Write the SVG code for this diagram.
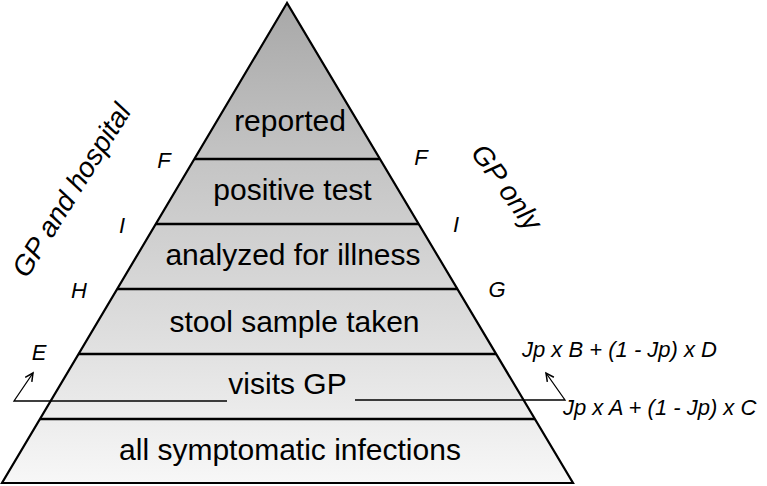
<svg xmlns="http://www.w3.org/2000/svg" width="767" height="486" viewBox="0 0 767 486">
  <defs>
    <linearGradient id="pyrFill" x1="0" y1="3" x2="0" y2="483" gradientUnits="userSpaceOnUse">
      <stop offset="0" stop-color="#a8a8a8"/>
      <stop offset="0.35" stop-color="#c6c6c6"/>
      <stop offset="0.7" stop-color="#dfdfdf"/>
      <stop offset="1" stop-color="#f7f7f7"/>
    </linearGradient>
    <marker id="openArrow" markerWidth="12" markerHeight="12" refX="9" refY="5" orient="auto" markerUnits="userSpaceOnUse">
      <path d="M1,1 L9,5 L1,9" fill="none" stroke="#000" stroke-width="1.5"/>
    </marker>
    <style>
      .band { font-family: "Liberation Sans", Arial, sans-serif; font-size: 30px; fill: #000; text-anchor: middle; }
      .lbl { font-family: "Liberation Sans", Arial, sans-serif; font-size: 22px; font-style: italic; fill: #000; text-anchor: middle; }
      .side { font-family: "Liberation Sans", Arial, sans-serif; font-size: 28px; font-style: italic; fill: #000; text-anchor: middle; }
      .formula { font-family: "Liberation Sans", Arial, sans-serif; font-size: 22px; font-style: italic; fill: #000; }
      .div { stroke: #000; stroke-width: 2.5; }
      .thin { fill: none; stroke: #000; stroke-width: 1.3; }
    </style>
  </defs>

  <g id="pyramid">
    <polygon points="287,3 2,483 573,483" fill="url(#pyrFill)" stroke="#000" stroke-width="2.2" stroke-linejoin="miter"/>
    <line class="div" x1="194.4" y1="159" x2="379.9" y2="159"/>
    <line class="div" x1="155.8" y1="224" x2="418.7" y2="224"/>
    <line class="div" x1="117.2" y1="289" x2="457.4" y2="289"/>
    <line class="div" x1="78.6" y1="354" x2="496.1" y2="354"/>
    <line class="div" x1="40" y1="419" x2="534.9" y2="419"/>
  </g>

  <g id="band-reported"><text class="band" x="290" y="131">reported</text></g>
  <g id="band-positive"><text class="band" x="292.5" y="200">positive test</text></g>
  <g id="band-analyzed"><text class="band" x="293" y="265">analyzed for illness</text></g>
  <g id="band-stool"><text class="band" x="294.5" y="332">stool sample taken</text></g>
  <g id="band-visits"><text class="band" x="287.5" y="394">visits GP</text></g>
  <g id="band-all"><text class="band" x="290" y="460">all symptomatic infections</text></g>

  <g id="label-left-side"><text class="side" transform="translate(71,190) rotate(-58)" x="0" y="10">GP and hospital</text></g>
  <g id="label-right-side"><text class="side" transform="translate(507,187) rotate(54)" x="0" y="10">GP only</text></g>

  <g id="label-F-left"><text class="lbl" x="164" y="168">F</text></g>
  <g id="label-I-left"><text class="lbl" x="122" y="233">I</text></g>
  <g id="label-H-left"><text class="lbl" x="79" y="298">H</text></g>
  <g id="label-E"><text class="lbl" x="39" y="360">E</text></g>
  <g id="label-F-right"><text class="lbl" x="421" y="165">F</text></g>
  <g id="label-I-right"><text class="lbl" x="456" y="232">I</text></g>
  <g id="label-G"><text class="lbl" x="497" y="297">G</text></g>

  <g id="formula-top"><text class="formula" x="522" y="357">Jp x B + (1 - Jp) x D</text></g>
  <g id="formula-bottom"><text class="formula" x="563" y="415">Jp x A + (1 - Jp) x C</text></g>

  <g id="connectors">
    <polyline class="thin" points="227,401 14,401 33,373" marker-end="url(#openArrow)"/>
    <polyline class="thin" points="355,400 565,400 546,373" marker-end="url(#openArrow)"/>
  </g>
</svg>
